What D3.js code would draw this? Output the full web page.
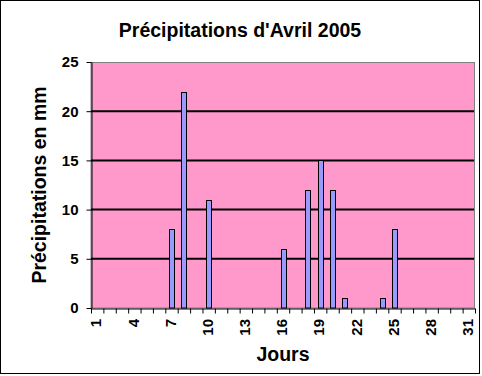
<!DOCTYPE html>
<html>
<head>
<meta charset="utf-8">
<script src="https://cdn.jsdelivr.net/npm/d3@7"></script>
<style>
  html, body { margin: 0; padding: 0; background: #fff; }
  svg { display: block; }
  text { font-family: "Liberation Sans", Arial, sans-serif; font-weight: bold; fill: #000; }
</style>
</head>
<body>
<svg id="chart" width="482" height="376"></svg>
<script>
const title = "Précipitations d'Avril 2005";
const xTitle = "Jours";
const yTitle = "Précipitations en mm";
const days = d3.range(1, 32);
const rain = [0,0,0,0,0,0,8,22,0,11,0,0,0,0,0,6,0,12,15,12,1,0,0,1,8,0,0,0,0,0,0];
const xTickLabels = [1,4,7,10,13,16,19,22,25,28,31];
const yTicks = [0,5,10,15,20,25];
const gridValues = [5,10,15,20];

const svg = d3.select("#chart");
const L = 91, R = 475, T = 62, B = 308;

// outer frame
svg.append("rect").attr("x", 0.5).attr("y", 0.5).attr("width", 479).attr("height", 373)
  .attr("fill", "#fff").attr("stroke", "#000").attr("stroke-width", 1);

const x = d3.scaleBand().domain(days).range([L, R]).padding(0);
const xb = d3.scaleLinear().domain([0, 31]).range([L, R]);
const y = d3.scaleLinear().domain([0, 25]).range([B, T]);

// plot background
svg.append("rect").attr("x", L).attr("y", T + 0.5).attr("width", R - L - 0.5).attr("height", B - T - 0.5)
  .attr("fill", "#FF99CC").attr("stroke", "#808080").attr("stroke-width", 1);

// gridlines
svg.append("g").selectAll("line").data(gridValues).join("line")
  .attr("x1", L).attr("x2", R - 1)
  .attr("y1", d => y(d)).attr("y2", d => y(d))
  .attr("stroke", "#000").attr("stroke-width", 2);

// bars
const bw = x.bandwidth() * 0.4;
svg.append("g").selectAll("rect").data(days.filter((d, i) => rain[i] > 0)).join("rect")
  .attr("x", d => Math.round(x(d) + (x.bandwidth() - bw) / 2) + 0.5)
  .attr("y", d => Math.round(y(rain[d - 1])) + 0.5)
  .attr("width", Math.round(bw))
  .attr("height", d => Math.round(B - y(rain[d - 1])) - 0.5)
  .attr("fill", "#9999FF").attr("stroke", "#000").attr("stroke-width", 1);

// y axis
const yAxis = svg.append("g").attr("transform", `translate(${L + 0.5},0)`)
  .call(d3.axisLeft(y).tickValues(yTicks).tickSize(5).tickPadding(8).tickSizeOuter(0));
yAxis.select(".domain").attr("stroke", "#000");
yAxis.selectAll(".tick line").attr("stroke", "#000");
yAxis.selectAll("text").style("font-size", "15px").attr("fill", "#000");

// x axis ticks at boundaries
const xTickAxis = svg.append("g").attr("transform", `translate(0,${B + 0.5})`)
  .call(d3.axisBottom(xb).tickValues(d3.range(0, 32)).tickSize(5).tickSizeOuter(0).tickFormat(""));
xTickAxis.select(".domain").attr("stroke", "#000");
xTickAxis.selectAll(".tick line").attr("stroke", "#000");

// x labels
const xLab = svg.append("g").attr("transform", `translate(0,${B})`)
  .call(d3.axisBottom(x).tickValues(xTickLabels).tickSize(0));
xLab.select(".domain").remove();
xLab.selectAll("text")
  .style("font-size", "15px")
  .attr("transform", "rotate(-90)")
  .attr("text-anchor", "end")
  .attr("x", -11).attr("y", -1).attr("dy", "0.35em");

// titles
svg.append("text").attr("x", 240).attr("y", 37).attr("text-anchor", "middle")
  .style("font-size", "19.5px").text(title);
svg.append("text").attr("x", 283).attr("y", 361).attr("text-anchor", "middle")
  .style("font-size", "19.5px").text(xTitle);
svg.append("text").attr("transform", `translate(46,${(T + B) / 2}) rotate(-90)`)
  .attr("text-anchor", "middle").style("font-size", "19.5px").text(yTitle);
</script>
</body>
</html>
